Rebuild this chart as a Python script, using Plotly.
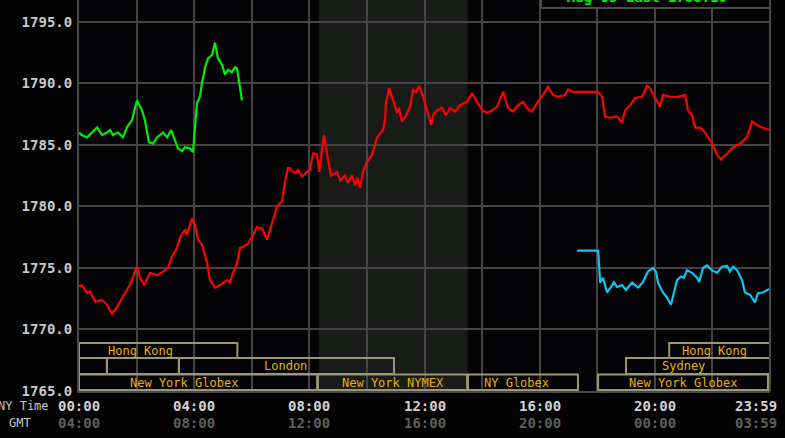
import plotly.graph_objects as go

# ---------------- data (hours in NY time, price) ----------------
red_hours = [0.00,0.10,0.28,0.38,0.56,0.80,0.97,1.15,1.32,1.53,1.77,2.01,2.12,2.26,2.47,2.71,2.92,3.09,3.23,3.40,
             3.51,3.68,3.75,3.92,4.03,4.13,4.27,4.45,4.55,4.72,4.90,5.14,5.24,5.35,5.49,5.59,5.84,6.01,6.18,6.36,
             6.53,6.63,6.88,7.05,7.16,7.26,7.33,7.44,7.50,7.61,7.75,7.92,8.02,8.13,8.27,8.34,8.44,8.51,8.61,8.75,
             8.96,9.07,9.24,9.34,9.48,9.59,9.66,9.76,9.86,10.00,10.18,10.35,10.56,10.63,10.66,10.77,10.91,11.05,11.11,11.22,
             11.36,11.50,11.60,11.71,11.81,11.95,12.09,12.23,12.30,12.43,12.61,12.75,12.89,13.06,13.23,13.48,13.65,13.82,14.00,14.17,
             14.35,14.52,14.73,14.90,15.07,15.25,15.42,15.56,15.73,15.94,16.12,16.29,16.46,16.64,16.88,16.99,17.16,18.03,18.17,18.27,
             18.44,18.69,18.86,18.97,19.14,19.31,19.56,19.73,19.83,20.01,20.18,20.28,20.53,20.81,21.05,21.15,21.29,21.40,21.57,21.74,
             21.99,22.16,22.30,22.51,22.72,22.96,23.20,23.38,23.55,23.72,24.00]
red_values = [1773.5,1773.6,1772.96,1773.1,1772.25,1772.4,1772.0,1771.3,1771.8,1772.7,1773.6,1775.1,1774.2,1773.6,1774.6,1774.4,1774.7,1775.0,1775.9,1776.6,
              1777.5,1778.1,1777.7,1779.0,1778.5,1777.3,1776.9,1775.4,1774.0,1773.4,1773.6,1774.0,1773.8,1774.6,1775.4,1776.6,1776.9,1777.5,1778.3,1778.2,
              1777.3,1778.1,1780.0,1780.4,1782.1,1783.1,1783.1,1782.8,1782.7,1782.95,1782.4,1782.8,1782.95,1784.3,1784.2,1782.8,1784.8,1785.8,1784.3,1782.5,
              1782.8,1782.1,1782.5,1781.9,1782.5,1781.7,1782.3,1781.5,1782.8,1783.6,1784.2,1785.6,1786.2,1787.0,1788.4,1789.6,1788.6,1787.6,1788.0,1786.9,
              1787.4,1788.1,1789.45,1789.3,1789.8,1788.9,1787.8,1786.6,1787.4,1787.8,1788.0,1787.4,1788.0,1787.7,1788.2,1788.5,1789.2,1788.5,1787.8,1787.6,
              1787.8,1788.1,1789.3,1788.0,1787.7,1788.2,1788.5,1788.0,1787.7,1788.5,1789.05,1789.7,1789.05,1788.9,1789.05,1789.5,1789.3,1789.3,1788.9,1787.3,
              1787.2,1787.3,1786.8,1787.8,1788.2,1788.8,1788.9,1789.8,1789.6,1788.8,1788.1,1789.05,1788.9,1788.9,1789.05,1787.8,1787.4,1786.4,1786.4,1786.0,
              1785.1,1784.2,1783.8,1784.3,1784.8,1785.1,1785.6,1786.9,1786.6,1786.4,1786.2]

green_hours = [0.00,0.10,0.28,0.45,0.63,0.80,0.97,1.08,1.18,1.35,1.53,1.67,1.84,2.01,2.19,2.29,2.43,2.57,2.71,2.92,
               3.06,3.20,3.30,3.44,3.58,3.68,3.86,3.96,4.03,4.10,4.20,4.27,4.38,4.48,4.62,4.72,4.83,4.97,5.07,5.18,
               5.31,5.42,5.49,5.56,5.66]
green_values = [1786.0,1785.8,1785.6,1786.0,1786.4,1785.8,1786.0,1786.2,1785.8,1786.0,1785.6,1786.45,1787.0,1788.6,1787.8,1787.0,1785.2,1785.1,1785.6,1786.0,
                1785.6,1786.2,1785.6,1784.7,1784.5,1784.8,1784.7,1784.4,1786.45,1788.4,1788.9,1790.0,1791.3,1792.0,1792.3,1793.3,1792.0,1791.5,1790.7,1791.1,
                1790.9,1791.3,1791.2,1790.0,1788.6]

blue_hours = [17.30,18.03,18.06,18.10,18.20,18.34,18.48,18.58,18.69,18.86,19.00,19.21,19.42,19.59,19.76,19.94,20.04,20.11,20.28,20.42,
              20.56,20.67,20.77,20.91,21.01,21.12,21.29,21.47,21.54,21.67,21.81,21.99,22.16,22.33,22.51,22.61,22.72,22.86,23.03,23.13,
              23.31,23.48,23.58,23.76,23.97]
blue_values = [1776.4,1776.4,1775.4,1773.8,1774.2,1773.0,1773.45,1773.85,1773.45,1773.6,1773.2,1773.8,1773.4,1773.85,1774.7,1775.0,1774.7,1773.8,1773.0,1772.6,
               1772.0,1772.95,1774.0,1774.3,1774.2,1774.8,1774.6,1774.2,1773.85,1775.0,1775.2,1774.8,1774.6,1775.1,1775.15,1774.7,1775.1,1774.8,1774.0,1773.0,
               1772.8,1772.2,1772.95,1773.0,1773.3]

y_ticks = [1765, 1770, 1775, 1780, 1785, 1790, 1795]
ny_time_ticks = [0, 4, 8, 12, 16, 20, 24]
ny_time_labels = ["00:00", "04:00", "08:00", "12:00", "16:00", "20:00", "23:59"]
gmt_labels = ["04:00", "08:00", "12:00", "16:00", "20:00", "00:00", "03:59"]

nymex_shade = (8.33, 13.5)

# sessions: (row, start_hour, end_hour, label, label_hour)
sessions = [
    (1, 0.0, 5.5, "Hong Kong", 2.12),
    (1, 20.5, 24.0, "Hong Kong", 22.06),
    (2, 0.0, 0.97, "", None),
    (2, 0.97, 3.47, "", None),
    (2, 3.47, 10.94, "London", 7.17),
    (2, 19.0, 24.0, "Sydney", 20.98),
    (3, 0.0, 8.27, "New York Globex", 3.65),
    (3, 8.30, 13.48, "New York NYMEX", 10.9),
    (3, 13.51, 17.33, "NY Globex", 15.21),
    (3, 18.03, 23.93, "New York Globex", 20.98),
]

legend_text = "Aug 05 Last 1788.10"

# ---------------- figure ----------------
W, H = 785, 438
ML, MR, MT, MB = 79, 15, 0, 47
plot_h = H - MT - MB
plot_w = W - ML - MR
px_per_unit = 12.31
y_min = 1765
y_max = y_min + plot_h / px_per_unit

mono = "DejaVu Sans Mono"

fig = go.Figure()

fig.add_trace(go.Scatter(x=red_hours, y=red_values, mode="lines",
                         line=dict(color="#ff0000", width=2.2), hoverinfo="skip"))
fig.add_trace(go.Scatter(x=green_hours, y=green_values, mode="lines",
                         line=dict(color="#00ee00", width=2.2), hoverinfo="skip"))
fig.add_trace(go.Scatter(x=blue_hours, y=blue_values, mode="lines",
                         line=dict(color="#10c4f0", width=2.2), hoverinfo="skip"))

shapes = []
# NYMEX shaded background
shapes.append(dict(type="rect", xref="x", yref="paper", x0=nymex_shade[0], x1=nymex_shade[1],
                   y0=0, y1=1, fillcolor="#191b19", line=dict(width=0), layer="below"))

# session rows (paper y coordinates from pixel rows)
def py(pix):
    return (plot_h - pix) / plot_h

row_bounds = {1: (py(343), py(358)), 2: (py(358), py(374)), 3: (py(374.5), py(390))}
row_text_y = {1: py(350.5), 2: py(366), 3: py(382.5)}
annotations = []
for row, s, e, label, lh in sessions:
    y1, y0 = row_bounds[row]
    shapes.append(dict(type="rect", xref="x", yref="paper", x0=s, x1=e, y0=y0, y1=y1,
                       line=dict(color="#9c9672", width=2), fillcolor="rgba(0,0,0,0)", layer="above"))
    if label:
        annotations.append(dict(x=lh, y=row_text_y[row], xref="x", yref="paper", text=label,
                                showarrow=False, xanchor="center", yanchor="middle",
                                font=dict(family=mono, size=12, color="#e6b400")))

# plot right border
shapes.append(dict(type="line", xref="paper", yref="paper", x0=1, x1=1, y0=0, y1=1,
                   line=dict(color="#4a4a4a", width=2), layer="above"))

# legend box at top (partly cut off)
shapes.append(dict(type="rect", xref="paper", yref="paper",
                   x0=(541 - ML) / plot_w, x1=1.0, y0=py(8), y1=1.05,
                   fillcolor="#050505", line=dict(color="#4a4a4a", width=2), layer="above"))
annotations.append(dict(x=(548 - ML) / plot_w, y=py(-3), xref="paper", yref="paper",
                        text="- " + legend_text, showarrow=False, xanchor="left", yanchor="middle",
                        font=dict(family=mono, size=14, color="#00ee00", weight="bold")))

# x-axis labels (two rows)
for h, lab, g in zip(ny_time_ticks, ny_time_labels, gmt_labels):
    xh = h if h < 24 else 23.5
    annotations.append(dict(x=xh, y=py(406), xref="x", yref="paper", text=lab, showarrow=False,
                            xanchor="center", yanchor="middle",
                            font=dict(family=mono, size=14, color="#d2d2d2", weight="bold")))
    annotations.append(dict(x=xh, y=py(423), xref="x", yref="paper", text=g, showarrow=False,
                            xanchor="center", yanchor="middle",
                            font=dict(family=mono, size=14, color="#5e5e5e", weight="bold")))
annotations.append(dict(x=(51 - ML) / plot_w, y=py(406), xref="paper", yref="paper", text="NY Time",
                        showarrow=False, xanchor="right", yanchor="middle",
                        font=dict(family=mono, size=12, color="#c8c8c8")))
annotations.append(dict(x=(20 - ML) / plot_w, y=py(423), xref="paper", yref="paper", text="GMT",
                        showarrow=False, xanchor="center", yanchor="middle",
                        font=dict(family=mono, size=12, color="#c8c8c8")))

fig.update_layout(
    width=W, height=H,
    margin=dict(l=ML, r=MR, t=MT, b=MB, pad=0, autoexpand=False),
    paper_bgcolor="#030303",
    plot_bgcolor="#040406",
    showlegend=False,
    shapes=shapes,
    annotations=annotations,
    xaxis=dict(range=[0, 24], tickvals=list(range(0, 25, 2)), showticklabels=False,
               showgrid=True, gridcolor="#444444", gridwidth=2, zeroline=False,
               showline=True, linecolor="#4a4a4a", linewidth=2, ticks="", fixedrange=True),
    yaxis=dict(range=[y_min, y_max], tickvals=y_ticks, ticktext=[f"{v:.1f}" for v in y_ticks],
               showgrid=True, gridcolor="#444444", gridwidth=2, zeroline=False,
               showline=True, linecolor="#4a4a4a", linewidth=2, ticks="",
               ticklabelstandoff=2,
               tickfont=dict(family=mono, size=14, color="#c8c8c8", weight="bold"), fixedrange=True),
)

fig.write_html("out.html", config={"displayModeBar": False},
               post_script="document.body.style.margin='0px';document.body.style.background='#030303';")
